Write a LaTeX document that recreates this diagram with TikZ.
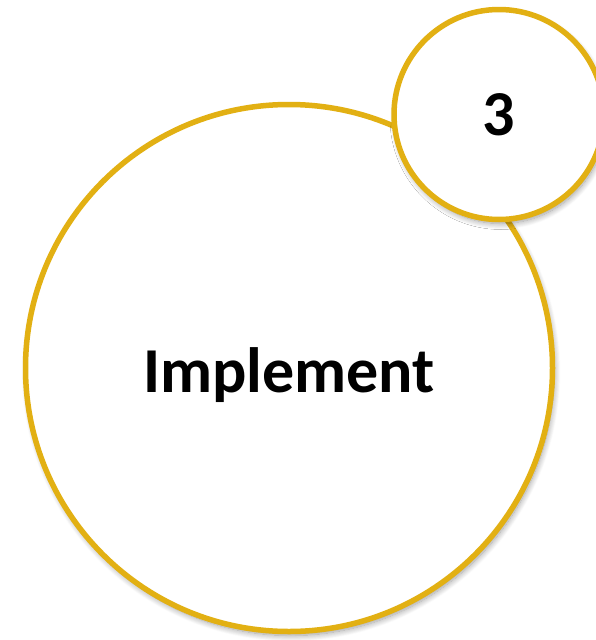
\documentclass[tikz,border=0pt]{standalone}
\usepackage{fontspec}
\setmainfont{Carlito}
\usetikzlibrary{shadows.blur}
\definecolor{ringgold}{HTML}{E2B013}

\begin{document}
\begin{tikzpicture}[x=1pt,y=-1pt,
    ring/.style={circle, draw=ringgold, line width=5.5pt, fill=white, inner sep=0pt,
        text depth=0pt,
        blur shadow={shadow xshift=2pt, shadow yshift=-4pt, shadow blur radius=6pt, shadow blur steps=12, shadow opacity=40},
        font=\bfseries\fontsize{64}{72}\selectfont}]
            \useasboundingbox (0,0) rectangle (595,640);
            \draw (289,368) node[ring, minimum size=527pt] (implement) {\raisebox{-4pt}{Implement}};
            \draw (499,114.5) node[ring, minimum size=210pt] (three) {\raisebox{-1pt}{3}};
        \end{tikzpicture}
\end{document}
